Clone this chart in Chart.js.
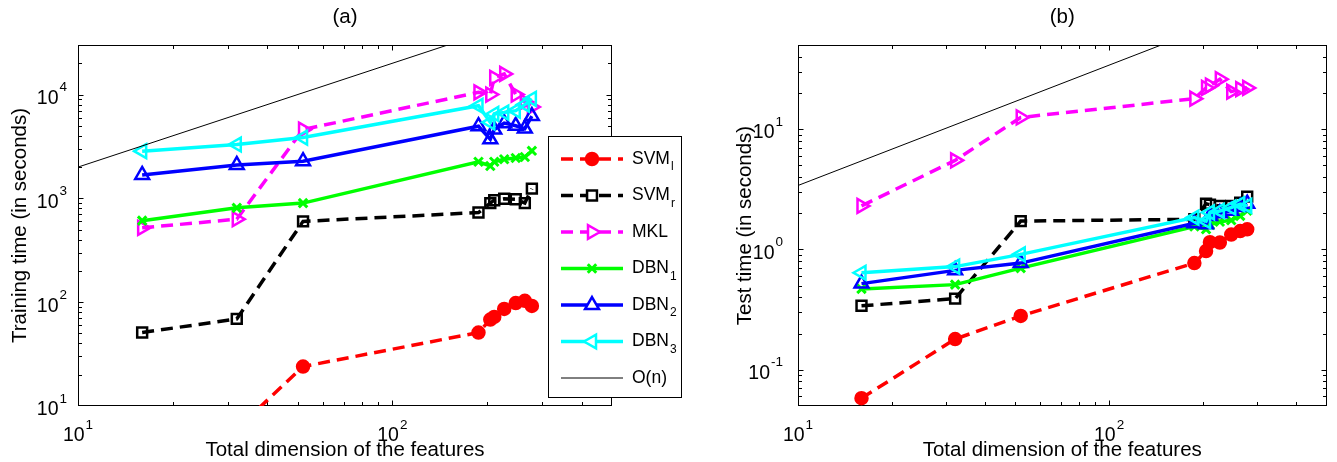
<!DOCTYPE html>
<html>
<head>
<meta charset="utf-8">
<script src="https://cdn.jsdelivr.net/npm/chart.js@4/dist/chart.umd.min.js"></script>
<style>
  html, body { margin: 0; padding: 0; background: #ffffff; }
  #wrap { position: relative; width: 1337px; height: 462px; overflow: hidden; }
  #chartA { position: absolute; left: 0; top: 0; }
  #chartB { position: absolute; left: 700px; top: 0; }
</style>
</head>
<body>
<div id="wrap">
  <canvas id="chartA" width="700" height="462"></canvas>
  <canvas id="chartB" width="637" height="462"></canvas>
</div>
<script>
// Total feature dimension of each run
const features = [16, 32, 52, 188, 205, 211, 227, 247, 264, 278];

// (a) training time, seconds
const trainSVMl = [2.5, 6, 24, 51, 68, 72, 86, 98, 103, 92];
const trainSVMr = [51, 69, 600, 730, 900, 960, 990, 980, 900, 1240];
const trainMKL  = [520, 630, 4600, 10500, 10000, 14500, 15800, 10000, 8500, 7600];
const trainDBN1 = [610, 810, 900, 2250, 2050, 2250, 2380, 2450, 2500, 2870];
const trainDBN2 = [1680, 2100, 2280, 4950, 3700, 4600, 5300, 5000, 4700, 6200];
const trainDBN3 = [2850, 3300, 3850, 7800, 5400, 6500, 6700, 7000, 8000, 9100];

// (b) test time, seconds
const testSVMl = [0.058, 0.18, 0.28, 0.77, 0.97, 1.15, 1.14, 1.33, 1.42, 1.47];
const testSVMr = [0.34, 0.39, 1.72, 1.78, 2.4, 2.35, 2.3, 2.3, 2.45, 2.75];
const testMKL  = [2.3, 5.5, 12.5, 17.9, 22, 23, 26, 20.5, 21.5, 22];
const testDBN1 = [0.47, 0.51, 0.70, 1.55, 1.47, 1.6, 1.7, 1.75, 1.9, 2.1];
const testDBN2 = [0.52, 0.67, 0.77, 1.65, 1.62, 1.9, 2.0, 2.1, 2.25, 2.4];
const testDBN3 = [0.64, 0.72, 0.91, 1.84, 1.72, 2.03, 2.09, 2.23, 2.38, 2.3];

// O(n) reference lines
const refN     = [10, 500];
const trainRef = [2000, 100000];
const testRef  = [3.4, 170];

// axis ranges and decade labels (exponents of 10)
const xRange     = [10, 500];
const trainRange = [10, 30000];
const testRange  = [0.05, 50];
const xTickExps     = [1, 2];
const trainTickExps = [1, 2, 3, 4];
const testTickExps  = [-1, 0, 1];

const FONT = '"Liberation Sans", Arial, sans-serif';
const f = (px) => px + 'px ' + FONT;

const seriesStyle = [
  { name: 'SVM', sub: 'l', color: '#ff0000', dash: [12, 7], point: 'circle',   rot: 0,   radius: 6, filled: true },
  { name: 'SVM', sub: 'r', color: '#000000', dash: [12, 7], point: 'rect',     rot: 0,   radius: 7 },
  { name: 'MKL', sub: '',  color: '#ff00ff', dash: [12, 7], point: 'triangle', rot: 90,  radius: 8 },
  { name: 'DBN', sub: '1', color: '#00ff00', dash: [],      point: 'crossRot', rot: 0,   radius: 6 },
  { name: 'DBN', sub: '2', color: '#0000ff', dash: [],      point: 'triangle', rot: 0,   radius: 8 },
  { name: 'DBN', sub: '3', color: '#00ffff', dash: [],      point: 'triangle', rot: -90, radius: 8 }
];
const refStyle = { name: 'O(n)', sub: '', color: '#000000', dash: [], point: false, thin: true };

function makeDatasets(values, ref) {
  const sets = values.map((vals, i) => {
    const s = seriesStyle[i];
    return {
      label: s.name + s.sub,
      data: features.map((x, k) => ({ x: x, y: vals[k] })),
      borderColor: s.color,
      borderWidth: 3.5,
      borderDash: s.dash,
      pointStyle: s.point,
      pointRotation: s.rot,
      pointRadius: s.radius,
      pointBorderWidth: s.point === 'crossRot' ? 3 : 2.5,
      pointBorderColor: s.color,
      pointBackgroundColor: s.filled ? s.color : 'rgba(0,0,0,0)',
      tension: 0,
      clip: 0,
      order: seriesStyle.length - i
    };
  });
  sets.push({
    label: 'O(n)',
    data: refN.map((x, k) => ({ x: x, y: ref[k] })),
    borderColor: '#000000',
    borderWidth: 1,
    pointRadius: 0,
    tension: 0,
    clip: 0,
    order: 0
  });
  return sets;
}

function logValues(min, max) {
  const out = [];
  for (let d = Math.floor(Math.log10(min)); d <= Math.ceil(Math.log10(max)); d++) {
    for (let k = 1; k <= 9; k++) {
      const v = k * Math.pow(10, d);
      if (v > min * 1.0001 && v < max * 0.9999) out.push({ v: v, major: k === 1 });
    }
  }
  return out;
}

function drawPower(ctx, exp, x, y, align) {
  ctx.font = f(19.5);
  const wb = ctx.measureText('10').width;
  ctx.font = f(13.5);
  const es = String(exp);
  const we = ctx.measureText(es).width;
  const x0 = align === 'right' ? x - wb - we - 1 : x - (wb + we + 1) / 2;
  ctx.textAlign = 'left';
  ctx.textBaseline = 'middle';
  ctx.fillStyle = '#000';
  ctx.font = f(19.5);
  ctx.fillText('10', x0, y + 4);
  ctx.font = f(13.5);
  ctx.fillText(es, x0 + wb + 1, y - 7);
}

function drawLabel(ctx, s, x, y) {
  ctx.textAlign = 'left';
  ctx.textBaseline = 'middle';
  ctx.fillStyle = '#000';
  ctx.font = f(17.5);
  ctx.fillText(s.name, x, y);
  if (s.sub) {
    const w = ctx.measureText(s.name).width;
    ctx.font = f(12);
    ctx.fillText(s.sub, x + w + 1, y + 8);
  }
}

const matlabAxes = {
  id: 'matlabAxes',
  beforeDatasetsDraw(chart, args, o) {
    const { ctx, chartArea: a, scales: { x, y } } = chart;
    const L = Math.round(a.left) + 0.5, R = Math.round(a.right) - 0.5;
    const T = Math.round(a.top) + 0.5, B = Math.round(a.bottom) - 0.5;
    ctx.save();
    ctx.strokeStyle = '#000';
    ctx.lineWidth = 1;
    ctx.beginPath();
    for (const t of logValues(x.min, x.max)) {
      const px = Math.round(x.getPixelForValue(t.v)) + 0.5;
      const len = t.major ? 5 : 3.5;
      ctx.moveTo(px, B); ctx.lineTo(px, B - len);
      ctx.moveTo(px, T); ctx.lineTo(px, T + len);
    }
    for (const t of logValues(y.min, y.max)) {
      const py = Math.round(y.getPixelForValue(t.v)) + 0.5;
      const len = t.major ? 5 : 3.5;
      ctx.moveTo(L, py); ctx.lineTo(L + len, py);
      ctx.moveTo(R, py); ctx.lineTo(R - len, py);
    }
    ctx.stroke();
    ctx.strokeRect(L, T, R - L, B - T);
    ctx.restore();
  },
  afterDraw(chart, args, o) {
    const { ctx, chartArea: a, scales: { x, y } } = chart;
    const cx = (a.left + a.right) / 2, cy = (a.top + a.bottom) / 2;
    ctx.save();
    for (const e of o.xExps) drawPower(ctx, e, x.getPixelForValue(Math.pow(10, e)), a.bottom + 26, 'center');
    for (const e of o.yExps) drawPower(ctx, e, a.left - o.yLabelGap, y.getPixelForValue(Math.pow(10, e)), 'right');

    ctx.fillStyle = '#000';
    ctx.textAlign = 'center';
    ctx.textBaseline = 'middle';
    ctx.font = f(20.5);
    ctx.fillText(o.title, cx, 17);
    ctx.fillText(o.xTitle, cx, a.bottom + 44);
    ctx.save();
    ctx.translate(a.left - o.yTitleGap, cy);
    ctx.rotate(-Math.PI / 2);
    ctx.fillText(o.yTitle, 0, 0);
    ctx.restore();

    if (o.legend) {
      const g = o.legend;
      ctx.fillStyle = '#fff';
      ctx.fillRect(g.left, g.top, g.width, g.height);
      ctx.strokeStyle = '#000';
      ctx.lineWidth = 1;
      ctx.strokeRect(g.left + 0.5, g.top + 0.5, g.width, g.height);
      const rows = seriesStyle.concat([refStyle]);
      rows.forEach((s, i) => {
        const ry = g.top + g.firstRow + i * g.rowGap;
        const x0 = g.left + 13, x1 = g.left + 75, xm = (x0 + x1) / 2;
        ctx.save();
        ctx.strokeStyle = s.color;
        ctx.lineWidth = s.thin ? 1 : 3.5;
        ctx.setLineDash(s.dash);
        ctx.beginPath();
        ctx.moveTo(x0, ry); ctx.lineTo(x1, ry);
        ctx.stroke();
        ctx.setLineDash([]);
        if (s.point) {
          ctx.fillStyle = s.filled ? s.color : '#fff';
          ctx.lineWidth = s.point === 'crossRot' ? 3 : 2.5;
          Chart.helpers.drawPoint(ctx, { pointStyle: s.point, rotation: s.rot, radius: s.radius, borderWidth: ctx.lineWidth }, xm, ry);
        }
        ctx.restore();
        drawLabel(ctx, s, g.left + 84, ry);
      });
    }
    ctx.restore();
  }
};

function buildChart(id, values, ref, yRange, padRight, extra) {
  return new Chart(document.getElementById(id), {
    type: 'line',
    data: { datasets: makeDatasets(values, ref) },
    options: {
      responsive: false,
      animation: false,
      events: [],
      layout: { padding: { left: extra.padLeft, right: padRight, top: 45, bottom: 56 } },
      scales: {
        x: { type: 'logarithmic', min: xRange[0], max: xRange[1], display: false },
        y: { type: 'logarithmic', min: yRange[0], max: yRange[1], display: false }
      },
      plugins: {
        legend: { display: false },
        tooltip: { enabled: false },
        matlabAxes: extra
      }
    },
    plugins: [matlabAxes]
  });
}

buildChart('chartA',
  [trainSVMl, trainSVMr, trainMKL, trainDBN1, trainDBN2, trainDBN3], trainRef, trainRange, 88,
  { padLeft: 78, title: '(a)', xTitle: 'Total dimension of the features', yTitle: 'Training time (in seconds)',
    xExps: xTickExps, yExps: trainTickExps, yLabelGap: 11, yTitleGap: 58,
    legend: { left: 548, top: 136, width: 133, height: 261, firstRow: 23, rowGap: 36.5 } });

buildChart('chartB',
  [testSVMl, testSVMr, testMKL, testDBN1, testDBN2, testDBN3], testRef, testRange, 6,
  { padLeft: 98, title: '(b)', xTitle: 'Total dimension of the features', yTitle: 'Test time (in seconds)',
    xExps: xTickExps, yExps: testTickExps, yLabelGap: 15, yTitleGap: 53 });
</script>
</body>
</html>
